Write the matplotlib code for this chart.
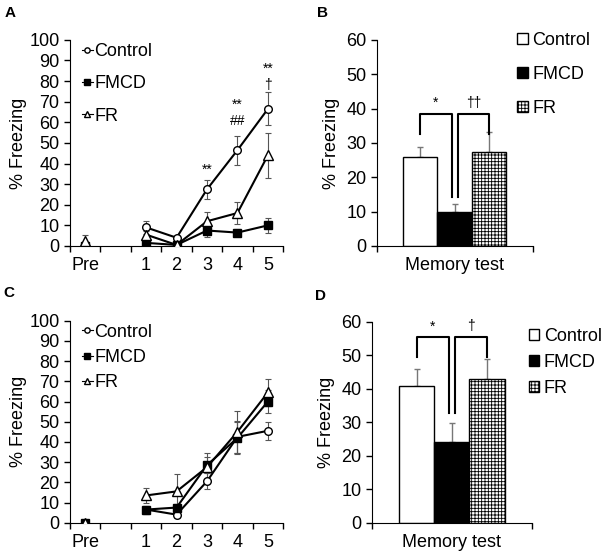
import numpy as np
import matplotlib
matplotlib.use('Agg')
import matplotlib.pyplot as plt

plt.rcParams['font.family'] = ['Liberation Sans', 'DejaVu Sans']
plt.rcParams['hatch.linewidth'] = 0.6

# session axis (Excel style: one blank slot after Pre)
sessions = ['Pre', '', '1', '2', '3', '4', '5']
points = ['Pre', '1', '2', '3', '4', '5']
groups = ['Control', 'FMCD', 'FR']

# panel A - conditioning
a_ctrl = [0, 9, 4, 27.5, 46.5, 66.5]
a_ctrl_se = [0.5, 3, 1, 4.5, 7, 8]
a_fmcd = [0, 1.5, 0.5, 7.5, 6.5, 10]
a_fmcd_se = [0.5, 1, 0.5, 3, 1.5, 3.5]
a_fr = [2.5, 5.5, 0.5, 12, 16, 44]
a_fr_se = [2.8, 2, 0.5, 4.5, 5.5, 11]

# panel C
c_ctrl = [0, 6.5, 4, 20.5, 42.5, 45.5]
c_ctrl_se = [0.5, 2, 1.5, 4, 8, 4.5]
c_fmcd = [0, 6.5, 7.5, 28.5, 42, 60]
c_fmcd_se = [0.5, 2, 2, 4, 8, 5.5]
c_fr = [0, 13.5, 15.5, 27.5, 45, 64.5]
c_fr_se = [0.5, 3.5, 8.5, 7, 10.5, 6.5]

# panels B / D - memory test
b_vals = [26, 9.8, 27.3]
b_err = [2.9, 2.4, 6.0]
d_vals = [40.8, 24.2, 42.9]
d_err = [5.0, 5.5, 6.0]

fig = plt.figure(figsize=(6.02, 5.54), dpi=100)

styles = {
    'Control': dict(marker='o', mfc='white', mec='black', ms=5.5),
    'FMCD': dict(marker='s', mfc='black', mec='black', ms=5.5),
    'FR': dict(marker='^', mfc='white', mec='black', ms=6.5),
}


def line_panel(rect, series, stars, leg_anchor, leg_space):
    ax = fig.add_axes(rect)
    pos = [sessions.index(p) for p in points]
    handles = []
    for name, (vals, se) in zip(groups, series):
        st = styles[name]
        ax.errorbar(pos, vals, yerr=se, fmt='none', ecolor='#555555',
                    elinewidth=0.8, capsize=2, capthick=0.8, zorder=2)
        ax.plot(pos[1:], vals[1:], color='black', lw=1.5, zorder=3, **st)
        ax.plot(pos[:1], vals[:1], ls='none', zorder=3, **st)
        h, = ax.plot([], [], color='black', lw=0.8, marker=st['marker'],
                     mfc=st['mfc'], mec='black', ms=3.8)
        handles.append(h)
    for x, y, s in stars:
        ax.text(sessions.index(x), y, s, ha='center', va='center', fontsize=10)
    ax.set_xlim(-0.5, len(sessions) - 0.5)
    ax.set_ylim(0, 100)
    ax.set_yticks(np.arange(0, 101, 10))
    ax.set_xticks(np.arange(-0.5, len(sessions), 1))
    ax.set_xticklabels([])
    ax.set_xticks(np.arange(len(sessions)), minor=True)
    ax.set_xticklabels(sessions, minor=True)
    ax.tick_params(axis='x', which='minor', length=0, pad=8, labelsize=13)
    ax.tick_params(axis='both', which='major', length=4, width=1, labelsize=13)
    ax.set_ylabel('% Freezing', fontsize=13, labelpad=2)
    for s in ['top', 'right']:
        ax.spines[s].set_visible(False)
    ax.legend(handles, groups, loc='upper left', bbox_to_anchor=leg_anchor,
              frameon=False, fontsize=13, handlelength=0.6, handletextpad=0.1,
              labelspacing=leg_space, borderpad=0, borderaxespad=0)
    return ax


def bar_panel(rect, vals, err, brackets, leg_anchor, leg_space):
    ax = fig.add_axes(rect)
    w = 0.22
    xs = [-w, 0, w]
    faces = ['white', 'black', 'white']
    hatches = [None, None, '+++++']
    for x, v, e, fc, ht, name in zip(xs, vals, err, faces, hatches, groups):
        ax.bar(x, v, width=w, color=fc, edgecolor='black', linewidth=1,
               hatch=ht, label=name, zorder=2)
        ax.errorbar(x, v, yerr=[[0], [e]], fmt='none', ecolor='#777777',
                    elinewidth=1, capsize=2, capthick=1, zorder=1)
    for x0, x1, top, l0, l1, s in brackets:
        ax.plot([x0, x0, x1, x1], [l0, top, top, l1], color='black', lw=1.5,
                zorder=3)
        ax.text((x0 + x1) / 2, top + 1.2, s, ha='center', va='bottom',
                fontsize=10)
    ax.set_xlim(-0.5, 0.5)
    ax.set_ylim(0, 60)
    ax.set_yticks(np.arange(0, 61, 10))
    ax.set_xticks([-0.5, 0.5])
    ax.set_xticklabels([])
    ax.set_xticks([0], minor=True)
    ax.set_xticklabels(['Memory test'], minor=True)
    ax.tick_params(axis='x', which='minor', length=0, pad=8, labelsize=13)
    ax.tick_params(axis='both', which='major', length=4, width=1, labelsize=13)
    ax.set_ylabel('% Freezing', fontsize=13, labelpad=4)
    for s in ['top', 'right']:
        ax.spines[s].set_visible(False)
    ax.legend(loc='upper left', bbox_to_anchor=leg_anchor, frameon=False,
              fontsize=13, handlelength=0.6, handleheight=0.6,
              handletextpad=0.25, labelspacing=leg_space, borderpad=0,
              borderaxespad=0)
    return ax


line_panel([0.1163, 0.556, 0.354, 0.372],
           [(a_ctrl, a_ctrl_se), (a_fmcd, a_fmcd_se), (a_fr, a_fr_se)],
           [('3', 37, '**'), ('4', 68.5, '**'), ('4', 60.5, '##'),
            ('5', 86, '**'), ('5', 78, '\u2020')],
           (0.055, 0.985), 0.85)

bar_panel([0.6257, 0.556, 0.259, 0.372], b_vals, b_err,
          [(-0.22, -0.02, 38.4, 32.5, 14.4, '*'),
           (0.02, 0.22, 38.4, 14.4, 32.5, '\u2020\u2020')],
          (0.9, 1.04), 0.95)

line_panel([0.1163, 0.0565, 0.354, 0.3646],
           [(c_ctrl, c_ctrl_se), (c_fmcd, c_fmcd_se), (c_fr, c_fr_se)],
           [], (0.055, 0.985), 0.45)

bar_panel([0.6174, 0.0565, 0.266, 0.3628], d_vals, d_err,
          [(-0.22, -0.02, 55.3, 49.6, 32.8, '*'),
           (0.02, 0.22, 55.3, 32.8, 49.4, '\u2020')],
          (0.98, 0.97), 0.5)

for x, y, s in [(0.007, 0.977, 'A'), (0.527, 0.976, 'B'),
                (0.006, 0.471, 'C'), (0.523, 0.466, 'D')]:
    fig.text(x, y, s, fontsize=11, fontweight='bold', va='center')

fig.savefig('out.png', dpi=100)
